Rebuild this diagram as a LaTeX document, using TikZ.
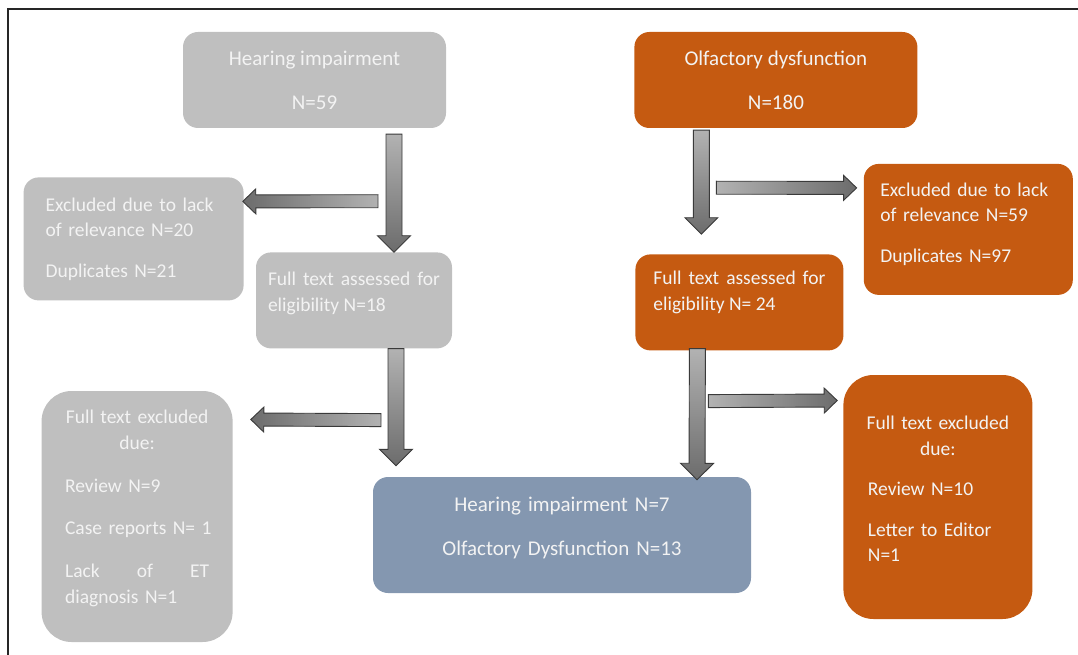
\documentclass[tikz,border=0pt]{standalone}
\usepackage{fontspec}
\setmainfont{Carlito}
\usetikzlibrary{positioning,calc}

\definecolor{boxgray}{HTML}{BFBFBF}
\definecolor{boxorange}{HTML}{C55A11}
\definecolor{boxblue}{HTML}{8497B0}
\definecolor{txtwhite}{HTML}{F3F3F3}
\definecolor{arrlight}{HTML}{B2B2B2}
\definecolor{arrdark}{HTML}{6C6C6C}
\definecolor{arredge}{HTML}{3A3A3A}

\tikzset{
  box/.style={rounded corners=15pt, inner sep=0pt, text=txtwhite},
  greybox/.style={box, fill=boxgray},
  orangebox/.style={box, fill=boxorange},
  bluebox/.style={box, fill=boxblue},
  title/.style={font=\fontsize{21}{26}\selectfont, align=center},
  body/.style={font=\fontsize{19.5}{25.5}\selectfont},
  lift/.style={execute at end node={\par\vspace*{#1}}},
  frame/.style={draw=black!85, line width=1.5pt},
  ba shaft/.initial=8, ba head/.initial=16.5, ba len/.initial=16.5,
  flowarrow/.style={draw=arredge, line width=0.9pt},
  vflow/.style={flowarrow, top color=arrlight, bottom color=arrdark,
    ba shaft=8, ba head=16.5, ba len=16.5},
  lflow/.style={flowarrow, left color=arrdark, right color=arrlight,
    ba shaft=6.5, ba head=12.5, ba len=13},
  rflow/.style={flowarrow, left color=arrlight, right color=arrdark,
    ba shaft=6.5, ba head=12.5, ba len=13},
}

% block arrow from #2 to #3, style #1
\newcommand{\blockarrow}[3]{%
  \path[#1] let \p1=#2, \p2=#3,
      \n1={atan2(\y2-\y1,\x2-\x1)}, \n2={veclen(\x2-\x1,\y2-\y1)},
      \n3={\pgfkeysvalueof{/tikz/ba shaft}}, \n4={\pgfkeysvalueof{/tikz/ba head}},
      \n5={veclen(\x2-\x1,\y2-\y1)-\pgfkeysvalueof{/tikz/ba len}} in
    [shift={(\p1)}, rotate=\n1]
    (0,-\n3) -- (\n5,-\n3) -- (\n5,-\n4) -- (\n2,0) -- (\n5,\n4) -- (\n5,\n3) -- (0,\n3) -- cycle;
}

\begin{document}
\begin{tikzpicture}[x=1pt, y=-1pt]
\useasboundingbox (0,0) rectangle (1078,655);

  % frame
  \draw[frame] (8,655) -- (8,9) -- (1078,9);

  % records
  \node[greybox, title, minimum width=263pt, minimum height=96pt] (hi) at (314.5,80) {Hearing impairment\\[18pt]N=59}; %
  \node[orangebox, title, minimum width=283pt, minimum height=96pt, right=188pt of hi] (od) {Olfactory dysfunction\\[18pt]N=180}; %

  % full text
  \node[greybox, body, text width=172pt, align=justify, minimum width=196pt, minimum height=96pt,
        below=124pt of hi, xshift=39.5pt, lift=14pt] (hi-ft) {Full text assessed for\linebreak eligibility N=18}; %
  \node[orangebox, body, text width=172pt, align=justify, minimum width=208pt, minimum height=96pt,
        below=126pt of od, xshift=-36.5pt, lift=20pt] (od-ft) {Full text assessed for\linebreak eligibility N= 24}; %

  % excluded
  \node[greybox, body, text width=176pt, align=left, minimum width=220pt, minimum height=123pt,
        left=12pt of hi-ft, yshift=61.5pt] (hi-ex) {Excluded due to lack\\of relevance N=20\\[15pt]Duplicates N=21}; %
  \node[orangebox, body, text width=176pt, align=left, minimum width=209pt, minimum height=131pt,
        right=20pt of od-ft, yshift=73pt, lift=11pt] (od-ex) {Excluded due to lack\\of relevance N=59\\[15pt]Duplicates N=97}; %

  % included
  \node[bluebox, title, text width=360pt, minimum width=378pt, minimum height=116pt, lift=14pt] (incl) at (562,535)
       {Hearing impairment N=7\\[18pt]Olfactory Dysfunction N=13}; %

  % full text excluded
  \node[greybox, body, rounded corners=30pt, text width=144pt, align=left, minimum width=191pt, minimum height=251pt,
        left=140pt of incl, yshift=18.5pt, lift=16pt] (hi-ftx)
       {\makebox[\linewidth]{Full text excluded}\\[1pt]\makebox[\linewidth]{due:}\\[17pt]Review N=9\\[17pt]%
        \makebox[\linewidth][l]{Case reports N= 1}\\[17pt]%
        \makebox[\linewidth][s]{Lack\hfill of\hfill ET}\\[1pt]diagnosis N=1}; %
  \node[orangebox, body, rounded corners=30pt, text width=140pt, align=left, minimum width=189pt, minimum height=244pt,
        right=92pt of incl, yshift=38pt, lift=16pt] (od-ftx)
       {\makebox[\linewidth]{Full text excluded}\\\makebox[\linewidth]{due:}\\[15pt]Review N=10\\[15pt]Letter to Editor\\N=1}; %

  % arrows
  \blockarrow{vflow}{($(hi.south)+(79.5,6)$)}{($(hi-ft.north)+(40,0)$)} %
  \blockarrow{lflow}{($(hi.south)+(63.5,73)$)}{($(hi-ex.east)+(-1,-37.5)$)} %
  \blockarrow{vflow}{($(od.south)+(-74.5,2)$)}{($(od-ft.north)+(-38,-20)$)} %
  \blockarrow{rflow}{($(od.south)+(-59.5,59.5)$)}{($(od-ex.west)+(-7,-41.5)$)} %
  \blockarrow{vflow}{($(hi-ft.south)+(42,0)$)}{($(incl.north)+(-166,-11)$)} %
  \blockarrow{lflow}{($(hi-ft.south)+(27,71.5)$)}{($(hi-ftx.east)+(18,-97)$)} %
  \blockarrow{vflow}{($(od-ft.south)+(-42,-2)$)}{($(incl.north)+(135,3)$)} %
  \blockarrow{rflow}{($(od-ft.south)+(-31,50.5)$)}{($(od-ftx.west)+(-6,-96.5)$)} %

\end{tikzpicture}
\end{document}
